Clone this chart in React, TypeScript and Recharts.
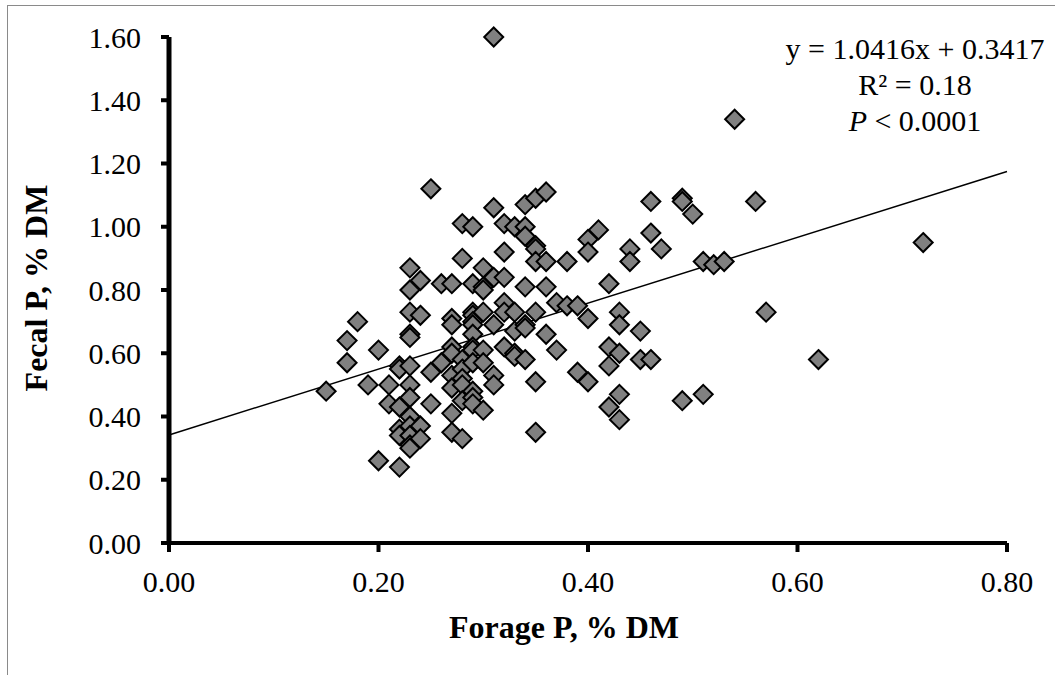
import { ScatterChart, Scatter, XAxis, YAxis, ReferenceLine, Label } from "recharts";

// Forage P vs fecal P, % DM
const forageP = [
  0.15, 0.17, 0.17, 0.18, 0.19, 0.2, 0.2, 0.21, 0.21,
  0.22, 0.22, 0.22, 0.22, 0.22, 0.22,
  0.23, 0.23, 0.23, 0.23, 0.23, 0.23, 0.23, 0.23, 0.23, 0.23, 0.23, 0.23, 0.23,
  0.24, 0.24, 0.24, 0.24,
  0.25, 0.25, 0.25, 0.26, 0.26,
  0.27, 0.27, 0.27, 0.27, 0.27, 0.27, 0.27, 0.27, 0.27,
  0.28, 0.28, 0.28, 0.28, 0.28, 0.28, 0.28, 0.28,
  0.29, 0.29, 0.29, 0.29, 0.29, 0.29, 0.29, 0.29, 0.29, 0.29, 0.29, 0.29, 0.29,
  0.3, 0.3, 0.3, 0.3, 0.3, 0.3, 0.3,
  0.31, 0.31, 0.31, 0.31, 0.31, 0.31,
  0.32, 0.32, 0.32, 0.32, 0.32, 0.32,
  0.33, 0.33, 0.33, 0.33, 0.33,
  0.34, 0.34, 0.34, 0.34, 0.34, 0.34, 0.34,
  0.35, 0.35, 0.35, 0.35, 0.35, 0.35, 0.35,
  0.36, 0.36, 0.36, 0.36, 0.37, 0.37, 0.38, 0.38, 0.39, 0.39,
  0.4, 0.4, 0.4, 0.4, 0.41,
  0.42, 0.42, 0.42, 0.42, 0.43, 0.43, 0.43, 0.43, 0.43,
  0.44, 0.44, 0.45, 0.45, 0.46, 0.46, 0.46, 0.47,
  0.49, 0.49, 0.49, 0.5, 0.51, 0.51, 0.52, 0.53, 0.54, 0.56, 0.57, 0.62, 0.72,
];

const fecalP = [
  0.48, 0.64, 0.57, 0.7, 0.5, 0.61, 0.26, 0.5, 0.44,
  0.56, 0.55, 0.43, 0.36, 0.34, 0.24,
  0.87, 0.8, 0.73, 0.66, 0.65, 0.56, 0.5, 0.46, 0.4, 0.37, 0.34, 0.31, 0.3,
  0.83, 0.72, 0.37, 0.33,
  1.12, 0.54, 0.44, 0.82, 0.57,
  0.82, 0.71, 0.69, 0.62, 0.6, 0.53, 0.49, 0.41, 0.35,
  1.01, 0.9, 0.58, 0.55, 0.52, 0.5, 0.45, 0.33,
  1.0, 0.82, 0.73, 0.72, 0.7, 0.69, 0.66, 0.62, 0.61, 0.57, 0.48, 0.46, 0.44,
  0.87, 0.81, 0.8, 0.73, 0.61, 0.57, 0.42,
  1.6, 1.06, 0.84, 0.69, 0.53, 0.5,
  1.01, 0.92, 0.84, 0.76, 0.73, 0.62,
  1.0, 0.73, 0.67, 0.6, 0.59,
  1.07, 1.0, 0.97, 0.81, 0.69, 0.68, 0.58,
  1.09, 0.94, 0.93, 0.89, 0.73, 0.51, 0.35,
  1.11, 0.89, 0.81, 0.66, 0.76, 0.61, 0.89, 0.75, 0.75, 0.54,
  0.96, 0.92, 0.71, 0.51, 0.99,
  0.82, 0.62, 0.56, 0.43, 0.73, 0.69, 0.6, 0.47, 0.39,
  0.93, 0.89, 0.67, 0.58, 1.08, 0.98, 0.58, 0.93,
  1.09, 1.08, 0.45, 1.04, 0.89, 0.47, 0.88, 0.89, 1.34, 1.08, 0.73, 0.58, 0.95,
];

const xTicks = [0, 0.2, 0.4, 0.6, 0.8];
const yTicks = [0, 0.2, 0.4, 0.6, 0.8, 1.0, 1.2, 1.4, 1.6];

// regression y = slope * x + intercept
const slope = 1.0416;
const intercept = 0.3417;

const data = forageP.map((x, i) => ({ x, y: fecalP[i] }));

const font = "'Liberation Serif', 'Times New Roman', serif";

const Diamond = (props: any) => {
  const { cx, cy } = props;
  const r = 9.5;
  return (
    <polygon
      points={`${cx},${cy - r} ${cx + r},${cy} ${cx},${cy + r} ${cx - r},${cy}`}
      fill="#808080"
      stroke="#000"
      strokeWidth={2}
    />
  );
};

const YTitle = (props: any) => {
  const { viewBox } = props;
  const cx = viewBox.x + 27;
  const cy = viewBox.y + viewBox.height / 2 - 2;
  return (
    <text
      x={cx}
      y={cy}
      transform={`rotate(-90 ${cx} ${cy})`}
      textAnchor="middle"
      dominantBaseline="central"
      fontFamily={font}
      fontWeight="bold"
      fontSize={32}
      fill="#000"
    >
      Fecal P, % DM
    </text>
  );
};

const XTitle = (props: any) => {
  const { viewBox } = props;
  const cx = viewBox.x + viewBox.width / 2 - 24;
  const cy = viewBox.y + 95;
  return (
    <text x={cx} y={cy} textAnchor="middle" fontFamily={font} fontWeight="bold" fontSize={32} fill="#000">
      Forage P, % DM
    </text>
  );
};

export default function App() {
  const tickStyle = { fontFamily: font, fontSize: 30, fill: "#000" };
  return (
    <div style={{ position: "absolute", left: 0, top: 0, width: 1055, height: 675, overflow: "hidden", background: "#fff" }}>
      <div
        style={{
          position: "absolute",
          left: 7,
          top: 5,
          width: 1200,
          height: 800,
          border: "1px solid #8a8a8a",
        }}
      />
      <div style={{ position: "absolute", left: 0, top: 0 }}>
        <ScatterChart width={1055} height={675} margin={{ top: 37, right: 48, left: 9, bottom: 37 }}>
          <XAxis
            type="number"
            dataKey="x"
            domain={[0, 0.8]}
            ticks={xTicks}
            tickFormatter={(v: number) => v.toFixed(2)}
            tick={tickStyle}
            tickSize={9}
            tickMargin={19}
            height={95}
            axisLine={{ stroke: "#000", strokeWidth: 4 }}
            tickLine={{ stroke: "#000", strokeWidth: 4 }}
          >
            <Label content={<XTitle />} />
          </XAxis>
          <YAxis
            type="number"
            dataKey="y"
            domain={[0, 1.6]}
            ticks={yTicks}
            tickFormatter={(v: number) => v.toFixed(2)}
            tick={tickStyle}
            tickSize={8}
            tickMargin={20}
            width={160}
            axisLine={{ stroke: "#000", strokeWidth: 5 }}
            tickLine={{ stroke: "#000", strokeWidth: 4 }}
          >
            <Label content={<YTitle />} />
          </YAxis>
          <Scatter data={data} shape={<Diamond />} isAnimationActive={false} />
          <ReferenceLine
            segment={[
              { x: 0, y: intercept },
              { x: 0.8, y: slope * 0.8 + intercept },
            ]}
            stroke="#000"
            strokeWidth={1.5}
          />
        </ScatterChart>
      </div>
      <div
        style={{
          position: "absolute",
          left: 775,
          top: 31,
          width: 280,
          textAlign: "center",
          fontFamily: font,
          fontSize: 30,
          lineHeight: "36px",
          color: "#000",
        }}
      >
        <div>y = 1.0416x + 0.3417</div>
        <div>R² = 0.18</div>
        <div>
          <i>P</i> &lt; 0.0001
        </div>
      </div>
    </div>
  );
}
